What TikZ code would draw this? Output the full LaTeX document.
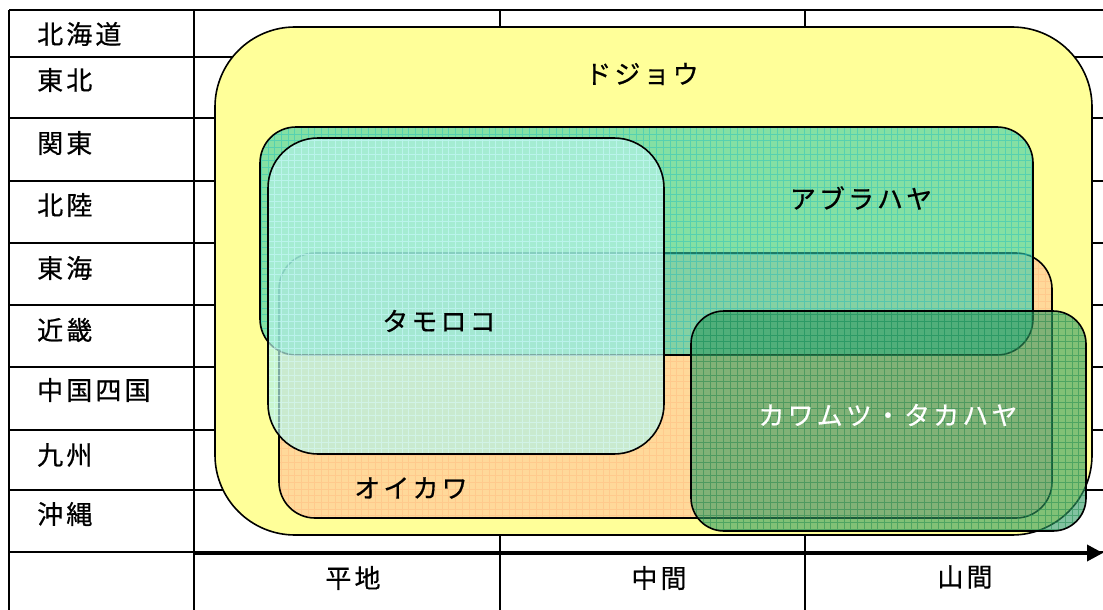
\documentclass[tikz,border=0pt]{standalone}
\usepackage{fontspec}
\setmainfont{Noto Sans CJK JP}[LetterSpace=12,FakeBold=0.6]
\usetikzlibrary{arrows.meta}
\definecolor{dojouc}{HTML}{FFFF99}
\definecolor{oikawac}{HTML}{FFD99A}
\definecolor{oikawag}{HTML}{FFC488}
\definecolor{aburac}{HTML}{33CCAA}
\definecolor{aburag}{HTML}{20C0C0}
\definecolor{tamoc}{HTML}{B3F2E6}
\definecolor{tamog}{HTML}{D8FFFF}
\definecolor{kawac}{HTML}{2E9960}
\definecolor{kawag}{HTML}{1C8A50}
% #1 fill, #2 opacity, #3 grid colour, #4 grid opacity, #5 x1, #6 y1, #7 x2, #8 y2, #9 radius
\newcommand\myregion[9]{%
  \begin{scope}
    \clip (#5,#6) [rounded corners=#9] rectangle (#7,#8);
    \fill[#1,opacity=#2] (#5,#6) rectangle (#7,#8);
    \draw[#3,opacity=#4,line width=0.9pt,step=6.7pt] (#5,#6) grid (#7,#8);
  \end{scope}
  \draw[region] (#5,#6) [rounded corners=#9] rectangle (#7,#8);}
\begin{document}
\begin{tikzpicture}[x=1pt,y=-1pt,
  tablerule/.style={line width=2pt,black},
  region/.style={line width=1.6pt,draw=black},
  lab/.style={font=\fontsize{26}{30}\selectfont,inner sep=0pt,anchor=west},
  clab/.style={font=\fontsize{26}{30}\selectfont,inner sep=0pt},
  axisline/.style={line width=3.5pt,-{Triangle[length=16pt,width=16pt]}}]
\useasboundingbox (0,0) rectangle (1103,610);
% table grid
\foreach \yy in {10,57,118,181,243,305,367,430,490,552}
  \draw[tablerule] (9,\yy) -- (1103,\yy);
\foreach \xx in {9,194,500,805}
  \draw[tablerule] (\xx,10) -- (\xx,610);
% regions
\draw[region,fill=dojouc] (215,27) [rounded corners=80pt] rectangle (1092,535);
\myregion{oikawac}{1}{oikawag}{0.7}{279}{253}{1052}{518}{36pt}
\myregion{aburac}{0.6}{aburag}{0.45}{260}{127}{1033}{355}{36pt}
\myregion{tamoc}{0.7}{tamog}{0.55}{268}{138}{664}{454}{50pt}
\myregion{kawac}{0.6}{kawag}{0.5}{691}{311}{1086}{531}{33pt}
% region labels
\node[clab] (dojou) at (642,74) {ドジョウ};
\node[clab] (abura) at (861,198) {アブラハヤ};
\node[clab] (tamo) at (439,321) {タモロコ};
\node[clab] (oikawa) at (411,488) {オイカワ};
\node[clab,text=white] (kawa) at (888,415) {カワムツ・タカハヤ};
% row labels
\node[lab] (r1) at (37,34) {北海道};
\node[lab] (r2) at (37,80) {東北};
\node[lab] (r3) at (37,143) {関東};
\node[lab] (r4) at (37,205) {北陸};
\node[lab] (r5) at (37,268) {東海};
\node[lab] (r6) at (37,330) {近畿};
\node[lab] (r7) at (37,390) {中国四国};
\node[lab] (r8) at (37,455) {九州};
\node[lab] (r9) at (37,514) {沖縄};
% axis
\coordinate (axL) at (193,553);
\coordinate (axR) at (1103,553);
\draw[axisline] (axL) -- (axR);
\node[clab] (c1) at (353,578) {平地};
\node[clab] (c2) at (659,578) {中間};
\node[clab] (c3) at (965,577) {山間};
\end{tikzpicture}
\end{document}
